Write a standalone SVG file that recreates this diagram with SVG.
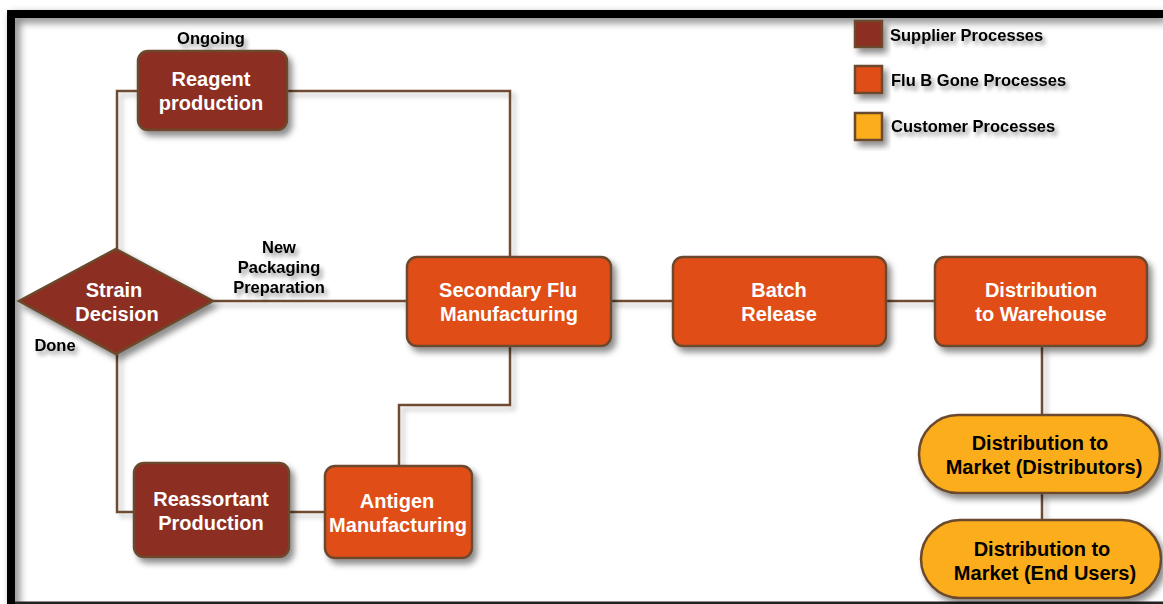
<svg xmlns="http://www.w3.org/2000/svg" width="1163" height="604" viewBox="0 0 1163 604">
  <defs>
    <filter id="shadow" x="-20%" y="-20%" width="150%" height="160%">
      <feDropShadow dx="4" dy="5" stdDeviation="3" flood-color="#000" flood-opacity="0.45"/>
    </filter>
    <filter id="lineShadow" x="-5%" y="-5%" width="115%" height="115%">
      <feDropShadow dx="4" dy="4" stdDeviation="2.5" flood-color="#000" flood-opacity="0.25"/>
    </filter>
    <filter id="textShadow" x="-10%" y="-30%" width="130%" height="180%">
      <feDropShadow dx="3" dy="4" stdDeviation="2" flood-color="#000" flood-opacity="0.4"/>
    </filter>
    <filter id="frameShadow" x="-5%" y="-5%" width="110%" height="110%">
      <feDropShadow dx="4" dy="4" stdDeviation="4" flood-color="#000" flood-opacity="0.55"/>
    </filter>
  </defs>
  <style>
    .supplier { fill: #8C2F21; stroke: #6B4A2E; stroke-width: 2.5; filter: url(#shadow); }
    .flub { fill: #E04E17; stroke: #6B4A2E; stroke-width: 2.5; filter: url(#shadow); }
    .customer { fill: #FBAD1A; stroke: #6B4A2E; stroke-width: 2.5; filter: url(#shadow); }
    .wire { fill: none; stroke: #6E4B30; stroke-width: 2.5; }
    .lbl { font-family: "Liberation Sans", Arial, sans-serif; font-weight: bold; text-anchor: middle; }
    .w { fill: #fff; font-size: 20px; }
    .k { fill: #000; font-size: 20px; }
    .note { fill: #000; font-size: 16.5px; filter: url(#textShadow); }
    .leg { font-family: "Liberation Sans", Arial, sans-serif; font-weight: bold; fill: #000; font-size: 16.5px; filter: url(#textShadow); }
  </style>

  <rect width="1163" height="604" fill="#fff"/>

  <!-- frame -->
  <g id="frame" filter="url(#frameShadow)">
    <rect x="7" y="10" width="1156" height="8" fill="#000"/>
    <rect x="7" y="10" width="8" height="594" fill="#000"/>
  </g>
  <rect x="15" y="601.5" width="1148" height="2.5" fill="#222"/>

  <!-- connectors -->
  <g id="connectors" filter="url(#lineShadow)">
    <polyline class="wire" points="117,249 117,91 138,91"/>
    <polyline class="wire" points="286,91 510,91 510,257"/>
    <line class="wire" x1="213" y1="301" x2="407" y2="301"/>
    <polyline class="wire" points="117,354 117,512 134,512"/>
    <line class="wire" x1="289" y1="512" x2="325" y2="512"/>
    <polyline class="wire" points="510,346 510,405 399,405 399,466"/>
    <line class="wire" x1="611" y1="301" x2="673" y2="301"/>
    <line class="wire" x1="886" y1="301" x2="935" y2="301"/>
    <line class="wire" x1="1042" y1="346" x2="1042" y2="415"/>
    <line class="wire" x1="1042" y1="493" x2="1042" y2="520"/>
  </g>

  <!-- legend -->
  <g id="legend">
    <rect class="supplier" x="855" y="21" width="27" height="26"/>
    <text class="leg" x="890" y="41">Supplier Processes</text>
    <rect class="flub" x="855" y="66" width="27" height="27"/>
    <text class="leg" x="891" y="86">Flu B Gone Processes</text>
    <rect class="customer" x="855" y="113" width="27" height="27"/>
    <text class="leg" x="891" y="132">Customer Processes</text>
  </g>

  <!-- branch labels -->
  <g id="labels" class="lbl">
    <text class="note" x="211" y="44">Ongoing</text>
    <text class="note" x="55" y="351">Done</text>
    <text class="note" x="279" y="253">New</text>
    <text class="note" x="279" y="273">Packaging</text>
    <text class="note" x="279" y="293">Preparation</text>
  </g>

  <g id="reagent">
    <rect class="supplier" x="138" y="51" width="149" height="79" rx="10"/>
    <text class="lbl w" x="211" y="86">Reagent</text>
    <text class="lbl w" x="211" y="110">production</text>
  </g>

  <g id="strain-decision">
    <polygon class="supplier" points="116,249 213,301 116,354 19,301"/>
    <text class="lbl w" x="114" y="297">Strain</text>
    <text class="lbl w" x="117" y="321">Decision</text>
  </g>

  <g id="reassortant">
    <rect class="supplier" x="134" y="463" width="155" height="94" rx="10"/>
    <text class="lbl w" x="211" y="506">Reassortant</text>
    <text class="lbl w" x="211" y="530">Production</text>
  </g>

  <g id="antigen">
    <rect class="flub" x="325" y="466" width="147" height="92" rx="10"/>
    <text class="lbl w" x="397" y="508">Antigen</text>
    <text class="lbl w" x="398" y="532">Manufacturing</text>
  </g>

  <g id="secondary">
    <rect class="flub" x="407" y="257" width="204" height="89" rx="10"/>
    <text class="lbl w" x="508" y="297">Secondary Flu</text>
    <text class="lbl w" x="509" y="321">Manufacturing</text>
  </g>

  <g id="batch">
    <rect class="flub" x="673" y="257" width="213" height="89" rx="10"/>
    <text class="lbl w" x="779" y="297">Batch</text>
    <text class="lbl w" x="779" y="321">Release</text>
  </g>

  <g id="warehouse">
    <rect class="flub" x="935" y="257" width="212" height="89" rx="10"/>
    <text class="lbl w" x="1041" y="297">Distribution</text>
    <text class="lbl w" x="1041" y="321">to Warehouse</text>
  </g>

  <g id="distributors">
    <rect class="customer" x="919" y="415" width="241" height="78" rx="39"/>
    <text class="lbl k" x="1040" y="450">Distribution to</text>
    <text class="lbl k" x="1044" y="474">Market (Distributors)</text>
  </g>

  <g id="end-users">
    <rect class="customer" x="921" y="520" width="240" height="78" rx="39"/>
    <text class="lbl k" x="1042" y="556">Distribution to</text>
    <text class="lbl k" x="1045" y="580">Market (End Users)</text>
  </g>
</svg>
